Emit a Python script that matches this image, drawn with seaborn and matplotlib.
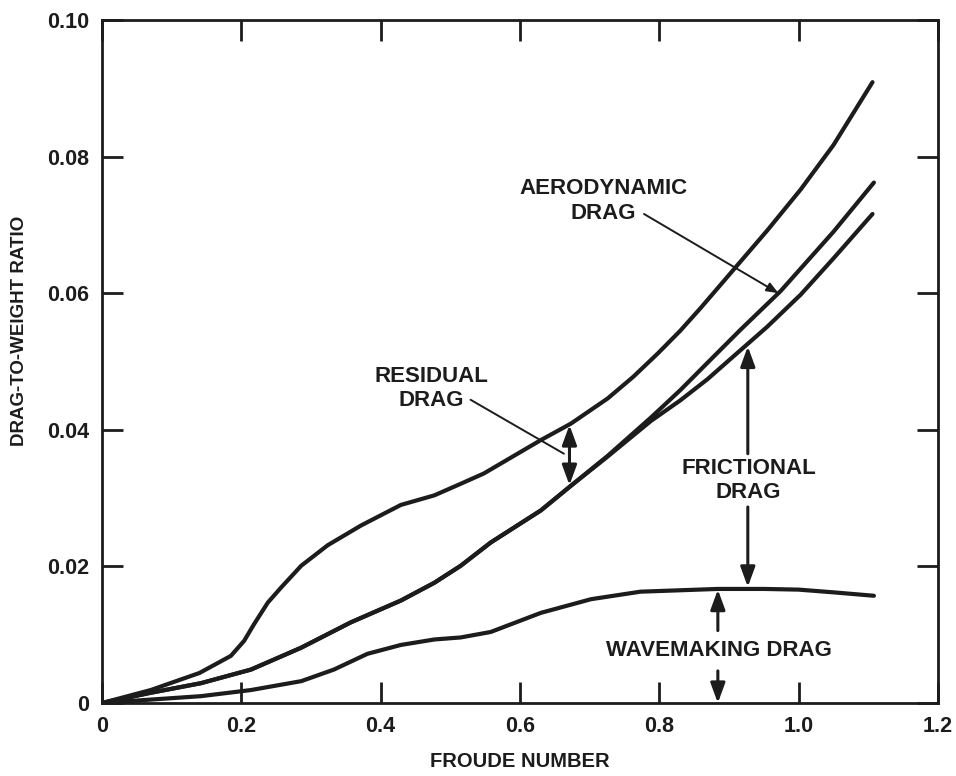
import numpy as np
import matplotlib
matplotlib.use('Agg')
import matplotlib.pyplot as plt
import seaborn as sns

# Curves (Froude number vs drag-to-weight ratio)
# top curve: total drag
total_x = [0, 0.07, 0.14, 0.185, 0.204, 0.218, 0.238, 0.257, 0.286, 0.324, 0.372, 0.429,
           0.477, 0.515, 0.548, 0.63, 0.673, 0.726, 0.763, 0.798, 0.83, 0.859, 0.907, 0.955,
           1.003, 1.05, 1.106]
total_y = [0, 0.0019, 0.0044, 0.0069, 0.0091, 0.0115, 0.0147, 0.0169, 0.0201, 0.0231, 0.0260,
           0.0290, 0.0304, 0.0321, 0.0336, 0.0385, 0.0409, 0.0446, 0.0478, 0.0512, 0.0545,
           0.0578, 0.0635, 0.0692, 0.0752, 0.0817, 0.0909]

# wavemaking + frictional + aerodynamic
aero_x = [0, 0.07, 0.142, 0.214, 0.286, 0.357, 0.429, 0.477, 0.515, 0.558, 0.63, 0.673,
          0.726, 0.788, 0.83, 0.869, 0.917, 0.974, 1.05, 1.108]
aero_y = [0, 0.0015, 0.0029, 0.0049, 0.0081, 0.0118, 0.0150, 0.0176, 0.0201, 0.0235, 0.0282,
          0.0318, 0.0362, 0.0418, 0.0458, 0.0498, 0.0547, 0.0603, 0.0690, 0.0762]

# wavemaking + frictional
fric_x = [0, 0.07, 0.142, 0.214, 0.286, 0.357, 0.429, 0.477, 0.515, 0.558, 0.63, 0.673,
          0.726, 0.788, 0.83, 0.869, 0.898, 0.955, 1.003, 1.05, 1.106]
fric_y = [0, 0.0015, 0.0029, 0.0049, 0.0081, 0.0118, 0.0150, 0.0176, 0.0201, 0.0235, 0.0282,
          0.0318, 0.0361, 0.0413, 0.0443, 0.0474, 0.0500, 0.0551, 0.0598, 0.0651, 0.0716]

# wavemaking only
wave_x = [0, 0.07, 0.142, 0.214, 0.286, 0.333, 0.381, 0.429, 0.477, 0.515, 0.558, 0.63,
          0.702, 0.773, 0.884, 0.95, 1.0, 1.05, 1.108]
wave_y = [0, 0.0005, 0.0010, 0.0019, 0.0032, 0.0049, 0.0072, 0.0085, 0.0093, 0.0096, 0.0104,
          0.0132, 0.0152, 0.0163, 0.0167, 0.0167, 0.0166, 0.0162, 0.0157]

x_ticks = [0, 0.2, 0.4, 0.6, 0.8, 1.0, 1.2]
x_labels = ['0', '0.2', '0.4', '0.6', '0.8', '1.0', '1.2']
y_ticks = [0, 0.02, 0.04, 0.06, 0.08, 0.10]
y_labels = ['0', '0.02', '0.04', '0.06', '0.08', '0.10']

sns.set_style('ticks')
plt.rcParams['font.family'] = ['Liberation Sans', 'DejaVu Sans']
plt.rcParams['font.weight'] = 'bold'

ink = '#1c1c1c'
fig = plt.figure(figsize=(9.56, 7.76), dpi=100)
ax = fig.add_axes([102 / 956, 1 - 703 / 776, 836 / 956, 683 / 776])

for xs, ys in [(total_x, total_y), (aero_x, aero_y), (fric_x, fric_y), (wave_x, wave_y)]:
    sns.lineplot(x=xs, y=ys, ax=ax, color=ink, linewidth=3, solid_capstyle='round',
                 solid_joinstyle='round', sort=False)

ax.set_xlim(0, 1.2)
ax.set_ylim(0, 0.10)
ax.set_xticks(x_ticks)
ax.set_xticklabels(x_labels)
ax.set_yticks(y_ticks)
ax.set_yticklabels(y_labels)
ax.tick_params(direction='in', length=15, width=2, colors=ink, labelsize=15.5,
               top=True, right=True, pad=9)
for s in ax.spines.values():
    s.set_linewidth(2)
    s.set_color(ink)

ax.set_xlabel('FROUDE NUMBER', fontsize=14.5, fontweight='bold', color=ink)
ax.set_ylabel('DRAG-TO-WEIGHT RATIO', fontsize=13.5, fontweight='bold', color=ink)
ax.xaxis.set_label_coords(0.5, -0.072)
ax.yaxis.set_label_coords(-0.089, 0.545)

txt = dict(fontsize=16, fontweight='bold', color=ink, ha='center', va='center', linespacing=1.2)
head = dict(arrowstyle='-|>,head_length=0.6,head_width=0.22', color=ink, lw=2.2,
            shrinkA=0, shrinkB=0, mutation_scale=20)
both = dict(arrowstyle='<|-|>,head_length=0.6,head_width=0.22', color=ink, lw=2.2,
            shrinkA=0, shrinkB=0, mutation_scale=20)
leader = dict(arrowstyle='-', color=ink, lw=1.4, shrinkA=0, shrinkB=0)

# aerodynamic drag
ax.text(0.72, 0.0735, 'AERODYNAMIC\nDRAG', **txt)
ax.annotate('', xy=(0.971, 0.0600), xytext=(0.778, 0.0716),
            arrowprops=dict(arrowstyle='-|>,head_length=0.5,head_width=0.2', color=ink, lw=1.4,
                            shrinkA=0, shrinkB=0, mutation_scale=14))

# residual drag
ax.text(0.473, 0.046, 'RESIDUAL\nDRAG', **txt)
ax.annotate('', xy=(0.663, 0.0365), xytext=(0.529, 0.0444), arrowprops=leader)
ax.annotate('', xy=(0.671, 0.0319), xytext=(0.671, 0.0407), arrowprops=both)

# frictional drag
ax.text(0.928, 0.0326, 'FRICTIONAL\nDRAG', **txt)
ax.annotate('', xy=(0.927, 0.0522), xytext=(0.927, 0.0365), arrowprops=head)
ax.annotate('', xy=(0.927, 0.0170), xytext=(0.927, 0.0287), arrowprops=head)

# wavemaking drag
ax.text(0.885, 0.0077, 'WAVEMAKING DRAG', **txt)
ax.annotate('', xy=(0.884, 0.0166), xytext=(0.884, 0.0106), arrowprops=head)
ax.annotate('', xy=(0.884, 0.0), xytext=(0.884, 0.0047), arrowprops=head)

fig.savefig('out.png', dpi=100)
